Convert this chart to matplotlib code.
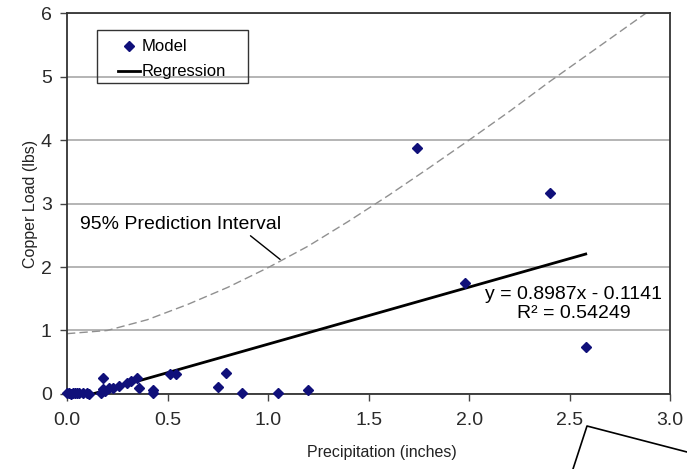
import matplotlib.pyplot as plt
from matplotlib.lines import Line2D
from matplotlib.patches import Rectangle

plt.rcParams['font.family'] = ['Liberation Sans', 'DejaVu Sans']

# Model points
precip = [0.00, 0.01, 0.02, 0.03, 0.04, 0.05, 0.06, 0.08, 0.10, 0.11,
          0.17, 0.18, 0.18, 0.19, 0.21, 0.23, 0.26, 0.30, 0.32, 0.35,
          0.36, 0.43, 0.43, 0.51, 0.54, 0.75, 0.79, 0.87, 1.05, 1.20,
          1.74, 1.98, 2.40, 2.58]
copper = [0.01, 0.02, 0.00, 0.01, 0.02, 0.01, 0.01, 0.02, 0.01, 0.00,
          0.02, 0.25, 0.08, 0.05, 0.09, 0.10, 0.13, 0.18, 0.21, 0.25,
          0.10, 0.06, 0.01, 0.31, 0.31, 0.11, 0.33, 0.01, 0.02, 0.07,
          3.88, 1.75, 3.16, 0.74]

# Regression (from the equation shown on the chart)
slope = 0.8987
intercept = -0.1141
r2 = 0.54249
reg_x = [0.127, 2.58]

# Upper 95% prediction interval
pi_x = [0.00, 0.20, 0.40, 0.60, 0.80, 1.00, 1.20, 1.40, 1.60, 1.80,
        2.00, 2.20, 2.40, 2.60, 2.88]
pi_y = [0.95, 1.00, 1.17, 1.41, 1.68, 1.99, 2.33, 2.72, 3.13, 3.56,
        4.00, 4.45, 4.92, 5.37, 6.00]

xticks = [0.0, 0.5, 1.0, 1.5, 2.0, 2.5, 3.0]
yticks = [0, 1, 2, 3, 4, 5, 6]

fig = plt.figure(figsize=(6.87, 4.69), dpi=100)
ax = fig.add_axes([0.0975, 0.160, 0.878, 0.812])

reg_y = [slope * x + intercept for x in reg_x]

ax.plot(pi_x, pi_y, color='#909090', lw=1, dashes=(6, 3), zorder=2)
ax.plot(reg_x, reg_y, color='black', lw=2, zorder=3)
ax.plot(precip, copper, linestyle='none', marker='D', markersize=5,
        color='#10107a', zorder=4, clip_on=False)

ax.set_xlim(0, 3.0)
ax.set_ylim(0, 6)
ax.set_xticks(xticks)
ax.set_xticklabels([f'{t:.1f}' for t in xticks])
ax.set_yticks(yticks)
ax.tick_params(axis='both', labelsize=14, direction='out', length=5,
               width=1, color='#444444', labelcolor='#2a2a2a')
ax.tick_params(axis='x', pad=8)
ax.tick_params(axis='y', pad=6)
for s in ax.spines.values():
    s.set_color('#333333')
    s.set_linewidth(1.3)

ax.grid(axis='y', color='#a8a8a8', lw=1.2)
ax.set_axisbelow(True)

ax.set_xlabel('Precipitation (inches)', fontsize=11.5, color='#222222')
ax.xaxis.set_label_coords(0.522, -0.134)
ax.set_ylabel('Copper Load (lbs)', fontsize=11.5, color='#222222', labelpad=2)

ax.text(2.52, 1.42, f'y = {slope}x - {abs(intercept)}\nR² = {r2}',
        ha='center', va='center', fontsize=14, linespacing=1.12)

ax.annotate('95% Prediction Interval', xy=(1.06, 2.12), xytext=(0.065, 2.67),
            fontsize=14, va='center', ha='left',
            arrowprops=dict(arrowstyle='-', color='black', lw=1,
                            shrinkA=0, shrinkB=0, relpos=(0.83, 0.0)))

# legend: plain box drawn separately, entries inside it
ax.add_patch(Rectangle((0.0498, 0.816), 0.2502, 0.139, transform=ax.transAxes,
                       facecolor='none', edgecolor='#333333', lw=1, zorder=5))
handles = [Line2D([], [], linestyle='none', marker='D', markersize=5, color='#10107a'),
           Line2D([], [], color='black', lw=2)]
ax.legend(handles, ['Model', 'Regression'], loc='upper left',
          bbox_to_anchor=(0.0846, 0.931), fontsize=12, frameon=False,
          handlelength=1.3, handletextpad=0.1, borderpad=0,
          labelspacing=0.6, borderaxespad=0)

# stray line fragment in the lower right of the original image
fig.add_artist(Line2D([573 / 687, 587 / 687, 1.0],
                      [0.0, 1 - 426 / 469, 1 - 452 / 469],
                      color='black', lw=1.2))

fig.savefig('out.png', dpi=100)
